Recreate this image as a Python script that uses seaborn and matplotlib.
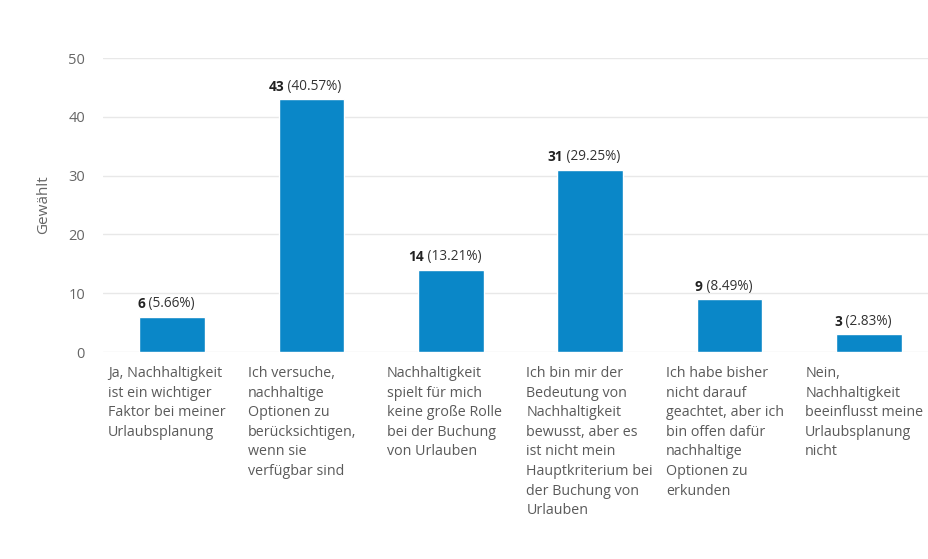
import matplotlib
matplotlib.use("Agg")
import matplotlib.pyplot as plt
import seaborn as sns
import pandas as pd

# Survey answers (line-broken as displayed under each bar)
categories = [
    "Ja, Nachhaltigkeit\nist ein wichtiger\nFaktor bei meiner\nUrlaubsplanung",
    "Ich versuche,\nnachhaltige\nOptionen zu\nberücksichtigen,\nwenn sie\nverfügbar sind",
    "Nachhaltigkeit\nspielt für mich\nkeine große Rolle\nbei der Buchung\nvon Urlauben",
    "Ich bin mir der\nBedeutung von\nNachhaltigkeit\nbewusst, aber es\nist nicht mein\nHauptkriterium bei\nder Buchung von\nUrlauben",
    "Ich habe bisher\nnicht darauf\ngeachtet, aber ich\nbin offen dafür\nnachhaltige\nOptionen zu\nerkunden",
    "Nein,\nNachhaltigkeit\nbeeinflusst meine\nUrlaubsplanung\nnicht",
]
counts = [6, 43, 14, 31, 9, 3]
percents = ["5.66%", "40.57%", "13.21%", "29.25%", "8.49%", "2.83%"]
y_ticks = [0, 10, 20, 30, 40, 50]

sns.set_theme(style="white")
plt.rcParams["font.family"] = ["Open Sans", "DejaVu Sans"]

df = pd.DataFrame({"antwort": categories, "gewaehlt": counts})

fig = plt.figure(figsize=(9.29, 5.59), dpi=100)
ax = fig.add_axes([103 / 929, 207 / 559, (929 - 103) / 929, (352 - 58) / 559])

bar_color = "#0A87C8"
sns.barplot(data=df, x="antwort", y="gewaehlt", color=bar_color, width=0.47,
            saturation=1, ax=ax, zorder=3)

ax.set_ylim(0, 50)
ax.set_xlim(-0.495, 5.43)
ax.set_yticks(y_ticks)
ax.set_yticklabels([str(t) for t in y_ticks], color="#666666", fontsize=10.5)
ax.tick_params(axis="y", length=0, pad=13)
ax.tick_params(axis="x", length=0)
ax.set_xticks(range(len(categories)))
ax.set_xticklabels([])
ax.set_xlabel("")
ax.set_ylabel("Gewählt", color="#666666", fontsize=11, labelpad=12)
ax.yaxis.grid(True, color="#e8e8e8", linewidth=1.0, zorder=0)
ax.xaxis.grid(False)
for s in ax.spines.values():
    s.set_visible(False)

# Category labels, left-aligned under each bar slot
for i, lab in enumerate(categories):
    ax.annotate(lab, xy=(i, 0), xycoords=("data", "axes fraction"),
                xytext=(-46, -10), textcoords="offset points",
                ha="left", va="top", fontsize=10.3, color="#5a5a5a",
                linespacing=1.42)

# Value labels above bars: bold count followed by share
for i, (c, p) in enumerate(zip(counts, percents)):
    t1 = ax.annotate(f"{c}", xy=(i, c), xytext=(0, 4), textcoords="offset points",
                     ha="left", va="bottom", fontsize=9.8, fontweight="bold",
                     color="#222222")
    t2 = ax.annotate(f" ({p})", xy=(i, c), xytext=(0, 4), textcoords="offset points",
                     ha="left", va="bottom", fontsize=9.8, color="#333333")
    fig.canvas.draw()
    r = fig.canvas.get_renderer()
    w1 = t1.get_window_extent(r).width * 72 / fig.dpi
    w2 = t2.get_window_extent(r).width * 72 / fig.dpi
    start = -(w1 + w2) / 2 - 4.5
    t1.set_position((start, 4))
    t2.set_position((start + w1, 4))

fig.savefig("out.png", dpi=100, facecolor="white")
